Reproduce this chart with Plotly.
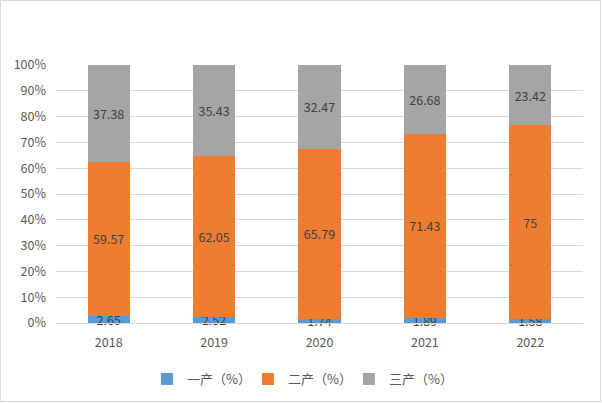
import plotly.graph_objects as go

years = ['2018', '2019', '2020', '2021', '2022']
primary = [2.65, 2.52, 1.74, 1.89, 1.58]
secondary = [59.57, 62.05, 65.79, 71.43, 75]
tertiary = [37.38, 35.43, 32.47, 26.68, 23.42]
names = ['一产（%）', '二产（%）', '三产（%）']
colors = ['#5b9bd5', '#ed7d31', '#a5a5a5']

font_family = 'Noto Sans CJK SC, Noto Sans, sans-serif'

fig = go.Figure()
for vals, name, color in zip([primary, secondary, tertiary], names, colors):
    fig.add_trace(go.Bar(
        x=years, y=vals, name=name,
        marker=dict(color=color, line=dict(width=0)),
        text=[f'{v:g}' for v in vals],
        textposition='inside',
        insidetextanchor='middle',
        constraintext='none',
        cliponaxis=False,
        textfont=dict(color='#404040', size=12.5, family=font_family),
    ))

l, r, t, b = 56, 19, 65, 80
pw = 602 - l - r
ph = 403 - t - b

fig.update_layout(
    width=602, height=403,
    barmode='stack', barnorm='percent',
    bargap=0.6,
    margin=dict(l=l, r=r, t=t, b=b, autoexpand=False),
    plot_bgcolor='white', paper_bgcolor='white',
    font=dict(family=font_family, color='#595959', size=12),
    showlegend=True,
    legend=dict(orientation='h', x=0.46, xanchor='center',
                y=-(364 - 323) / ph, yanchor='top',
                font=dict(size=13, color='#595959'), traceorder='normal',
                itemwidth=30, entrywidth=56, entrywidthmode='pixels'),
    xaxis=dict(showgrid=False, showline=True, linecolor='#d9d9d9', ticks='',
               ticklabelstandoff=8,
               tickfont=dict(size=12.5, color='#595959')),
    yaxis=dict(range=[0, 100], dtick=10, ticksuffix='%', showgrid=True,
               gridcolor='#d9d9d9', zeroline=False, showline=False,
               ticklabelstandoff=9,
               tickfont=dict(size=12.5, color='#595959')),
    shapes=[dict(type='rect', xref='paper', yref='paper',
                 x0=-(l - 0.5) / pw, x1=1 + (r - 1.5) / pw,
                 y0=-(b - 1.5) / ph, y1=1 + (t - 0.5) / ph,
                 line=dict(color='#d9d9d9', width=1))],
)

fig.write_html('out.html', config={'displayModeBar': False},
               post_script="document.body.style.margin='0';document.body.style.overflow='hidden';")
